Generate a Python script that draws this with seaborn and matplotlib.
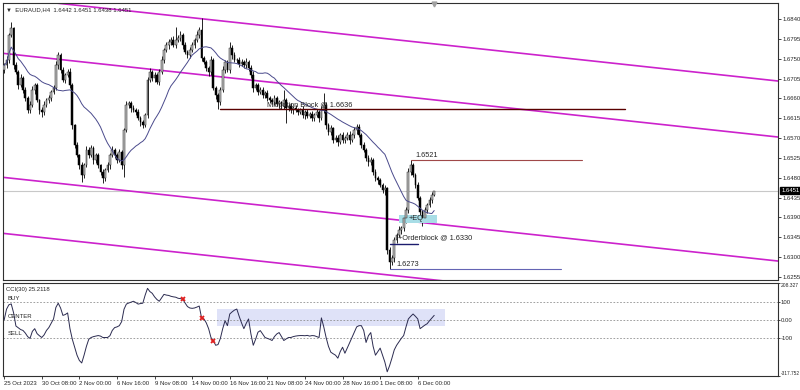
import numpy as np
import pandas as pd
import matplotlib
matplotlib.use("Agg")
import matplotlib.pyplot as plt
import matplotlib.transforms as mtransforms
import seaborn as sns

# ---------------- data ----------------
title_text = "\u25bc  EURAUD,H4  1.6442 1.6451 1.6438 1.6451"
first_open = 1.6725
closes = [
    1.6735, 1.6747, 1.6804, 1.6819, 1.6735, 1.6720, 1.6690, 1.6706, 1.6679, 1.6661,
    1.6633, 1.6645, 1.6679, 1.6690, 1.6656, 1.6633, 1.6629, 1.6645, 1.6656, 1.6661,
    1.6674, 1.6683, 1.6735, 1.6758, 1.6724, 1.6701, 1.6713, 1.6720, 1.6690, 1.6599,
    1.6554, 1.6531, 1.6508, 1.6486, 1.6508, 1.6543, 1.6531, 1.6547, 1.6520, 1.6531,
    1.6508, 1.6493, 1.6479, 1.6497, 1.6508, 1.6531, 1.6543, 1.6531, 1.6520, 1.6538,
    1.6508, 1.6588, 1.6645, 1.6649, 1.6638, 1.6633, 1.6629, 1.6615, 1.6606, 1.6599,
    1.6622, 1.6701, 1.6720, 1.6706, 1.6713, 1.6697, 1.6720, 1.6747, 1.6770, 1.6781,
    1.6788, 1.6792, 1.6781, 1.6792, 1.6797, 1.6804, 1.6781, 1.6765, 1.6758, 1.6770,
    1.6781, 1.6792, 1.6804, 1.6815, 1.6751, 1.6742, 1.6729, 1.6720, 1.6747, 1.6683,
    1.6667, 1.6651, 1.6679, 1.6724, 1.6742, 1.6724, 1.6774, 1.6758, 1.6747, 1.6747,
    1.6738, 1.6742, 1.6735, 1.6742, 1.6729, 1.6713, 1.6683, 1.6690, 1.6674, 1.6679,
    1.6667, 1.6672, 1.6661, 1.6656, 1.6651, 1.6661, 1.6647, 1.6651, 1.6642, 1.6656,
    1.6638, 1.6642, 1.6633, 1.6638, 1.6633, 1.6629, 1.6633, 1.6622, 1.6629, 1.6620,
    1.6624, 1.6615, 1.6622, 1.6629, 1.6615, 1.6633, 1.6645, 1.6599, 1.6583, 1.6592,
    1.6565, 1.6570, 1.6561, 1.6577, 1.6565, 1.6570, 1.6577, 1.6565, 1.6577, 1.6588,
    1.6595, 1.6577, 1.6554, 1.6543, 1.6524, 1.6515, 1.6520, 1.6493, 1.6479, 1.6474,
    1.6463, 1.6452, 1.6456, 1.6316, 1.6288, 1.6297, 1.6338, 1.6350, 1.6361, 1.6365,
    1.6388, 1.6406, 1.6493, 1.6508, 1.6486, 1.6463, 1.6434, 1.6402, 1.6388, 1.6406,
    1.6418, 1.6429, 1.6442, 1.6451,
]
upper_wick_pips = [
    6, 8, 5, 14, 4, 7, 5, 9, 4, 6, 5, 8, 10, 4, 6, 3, 7, 9, 5, 6,
    4, 7, 9, 7, 5, 8, 4, 6, 9, 5, 3, 6, 4, 7, 5, 10, 6, 8, 4, 6,
    5, 4, 7, 6, 8, 5, 9, 4, 6, 7, 5, 5, 8, 6, 4, 7, 5, 6, 4, 5,
    6, 8, 10, 5, 7, 4, 6, 9, 5, 8, 6, 7, 9, 30, 6, 8, 5, 7, 4, 6,
    7, 5, 9, 6, 27, 4, 6, 5, 8, 4, 6, 5, 7, 9, 6, 5, 15, 6, 8, 5,
    6, 7, 4, 9, 5, 6, 8, 5, 4, 7, 6, 5, 8, 4, 6, 7, 5, 6, 4, 23,
    5, 6, 7, 4, 8, 5, 6, 9, 4, 6, 5, 7, 4, 8, 5, 9, 27, 6, 5, 7,
    4, 6, 8, 5, 7, 4, 6, 9, 5, 8, 6, 7, 4, 6, 5, 8, 6, 4, 7, 5,
    6, 5, 8, 4, 6, 9, 7, 5, 10, 6, 8, 7, 9, 13, 6, 5, 7, 4, 6, 8,
    5, 7, 6, 0,
]
lower_wick_pips = [
    7, 5, 6, 4, 8, 5, 9, 4, 6, 7, 5, 6, 4, 8, 5, 9, 11, 6, 5, 7,
    6, 4, 5, 8, 6, 4, 7, 5, 6, 9, 7, 5, 8, 16, 6, 4, 7, 5, 8, 6,
    5, 7, 11, 6, 4, 8, 5, 7, 6, 4, 9, 27, 5, 6, 8, 4, 7, 5, 9, 6,
    5, 7, 4, 6, 8, 5, 6, 4, 7, 5, 8, 6, 4, 7, 5, 6, 8, 4, 6, 7,
    5, 6, 4, 8, 6, 5, 7, 9, 6, 4, 8, 15, 6, 5, 7, 4, 6, 8, 5, 7,
    6, 4, 7, 5, 8, 6, 9, 5, 6, 4, 7, 5, 8, 6, 4, 7, 5, 9, 6, 5,
    34, 6, 5, 8, 4, 7, 5, 6, 9, 5, 4, 7, 6, 5, 8, 4, 6, 9, 5, 7,
    6, 4, 8, 5, 7, 6, 4, 9, 5, 6, 8, 5, 7, 4, 6, 8, 5, 7, 6, 9,
    5, 7, 12, 8, 15, 6, 9, 7, 5, 8, 6, 10, 5, 6, 4, 7, 5, 6, 18, 6,
    5, 4, 6, 4,
]
cci_values = [
    0, 60, 85, 90, 40, -35, -45, -55, -60, -75,
    -95, -105, -65, -50, -78, -90, -100, -85, -60, -44,
    -20, 5, 70, 94, 67, 25, 30, 39, -50, -110,
    -155, -200, -230, -244, -200, -150, -110, -100, -95, -92,
    -89, -92, -100, -100, -100, -90, -60, -44, -40, -33,
    -10, 60, 89, 95, 100, 105, 98, 89, 92, 94,
    140, 178, 160, 150, 130, 115, 105, 125, 144, 140,
    138, 133, 130, 128, 122, 120, 117, 95, 75, 67,
    65, 67, 72, 78, 11, 5, -17, -50, -100, -117,
    -144, -140, -105, -50, -5, -33, 33, 45, 55, 61,
    20, -17, -50, -20, 5, -80, -144, -110, -70, -61,
    -80, -100, -105, -110, -117, -95, -80, -72, -95, -117,
    -108, -100, -100, -95, -92, -90, -89, -89, -90, -88,
    -92, -89, -90, -95, -100, 11, -40, -100, -150, -183,
    -192, -200, -217, -180, -155, -189, -160, -130, -100, -70,
    -40, -33, -33, -60, -128, -90, -72, -150, -200, -180,
    -160, -200, -239, -294, -260, -217, -170, -144, -125, -105,
    -89, -40, 5, 20, 33, 20, 5, -50, -40, -30,
    -22, -5, 10, 25.2118,
]
cci_signal_bars = [76, 84, 89]

time_labels = ["25 Oct 2023", "30 Oct 08:00", "2 Nov 00:00", "6 Nov 16:00",
               "9 Nov 08:00", "14 Nov 00:00", "16 Nov 16:00", "21 Nov 08:00",
               "24 Nov 00:00", "28 Nov 16:00", "1 Dec 08:00", "6 Dec 00:00"]
bars_per_label = 16
price_ticks = [1.6840, 1.6795, 1.6750, 1.6705, 1.6660, 1.6615, 1.6570,
               1.6525, 1.6480, 1.6435, 1.6390, 1.6345, 1.6300, 1.6255]
current_price = 1.6451
cci_levels = [100, 0, -100]
cci_level_names = ["BUY", "CENTER", "SELL"]
cci_tick_values = [208.327, 100, 0, -100, -317.752]
cci_tick_labels = ["208.327", "100", "0.00", "-100", "-317.752"]

# channel trend lines: price at the left and right chart edges
channel_bars = [-0.5, 329.3]
channel_prices = [(1.68892, 1.66994), (1.67622, 1.65724),
                  (1.64810, 1.62912), (1.63540, 1.61642)]

# horizontal level objects: (price, start bar, end bar)
mitigation_level = (1.6636, 92, 264)
swing_high_level = (1.6521, 173, 246)
orderblock_level = (1.6330, 164, 176)
swing_low_level = (1.6273, 164, 237)
eq_box = (168, 184.2, 1.6378, 1.6396)
cci_box = (90.5, 187.6, -33, 61)

# ---------------- figure ----------------
sns.set_style("white")
plt.rcParams["font.family"] = ["Liberation Sans", "DejaVu Sans"]

W, H = 800, 390
fig = plt.figure(figsize=(W / 100, H / 100), dpi=100)
ax = fig.add_axes([3 / W, 1 - 280 / H, 775 / W, 277 / H])
axc = fig.add_axes([3 / W, 1 - 376 / H, 775 / W, 93 / H], sharex=ax)

closes_a = np.array(closes)
opens_a = np.r_[first_open, closes_a[:-1]]
highs_a = np.maximum(opens_a, closes_a) + np.array(upper_wick_pips) * 1e-4
lows_a = np.minimum(opens_a, closes_a) - np.array(lower_wick_pips) * 1e-4
idx = np.arange(len(closes_a))
df = pd.DataFrame({"bar": idx, "close": closes_a})
df["ma"] = df["close"].rolling(20, min_periods=1).mean()

xmin, xmax = -0.5, 329.3
ax.set_xlim(xmin, xmax)
ax.set_ylim(1.62482, 1.68763)
axc.set_ylim(-317.752, 208.327)

# current price line
ax.axhline(current_price, color="#c8c8c8", lw=0.8, zorder=1)

# channel lines
for p0, p1 in channel_prices:
    ax.plot(channel_bars, [p0, p1], color="#cc22cc", lw=1.2, zorder=2)

# candles
ax.vlines(idx, lows_a, highs_a, color="black", lw=0.6, zorder=3)
bull = closes_a >= opens_a
body = closes_a - opens_a
ax.bar(idx[bull], body[bull], bottom=opens_a[bull], width=0.75,
       color="#bdbdbd", edgecolor="#202020", linewidth=0.35, zorder=4)
ax.bar(idx[~bull], body[~bull], bottom=opens_a[~bull], width=0.75,
       color="black", edgecolor="black", linewidth=0.35, zorder=4)

# moving average
sns.lineplot(data=df, x="bar", y="ma", ax=ax, color="#4a4a8c", lw=0.7, zorder=5)

# objects
p, b0, b1 = mitigation_level
ax.plot([b0, b1], [p, p], color="#5a0000", lw=1.0, zorder=6)
ax.text(112, p + 0.0001, f"Mitigation Block @ {p:.4f}", fontsize=5.3,
        ha="left", va="bottom", zorder=7)
p, b0, b1 = swing_high_level
ax.plot([b0, b1], [p, p], color="#a04848", lw=0.8, zorder=6)
ax.text(175, p + 0.0002, f"{p:.4f}", fontsize=5.3, ha="left", va="bottom", zorder=7)
p, b0, b1 = orderblock_level
ax.plot([b0, b1], [p, p], color="#1c1c6e", lw=1.0, zorder=6)
ax.text(167.5, p + 0.00135, f"+Orderblock @ {p:.4f}", fontsize=5.3,
        ha="left", va="center", zorder=7)
p, b0, b1 = swing_low_level
ax.plot([b0, b1], [p, p], color="#6464b4", lw=0.8, zorder=6)
ax.text(167, p + 0.0002, f"{p:.4f}", fontsize=5.3, ha="left", va="bottom", zorder=7)
bx0, bx1, by0, by1 = eq_box
ax.fill_between([bx0, bx1], by0, by1, color="#a8dde6", lw=0, zorder=3.5)
ax.text(172, (by0 + by1) / 2, "+EQ", fontsize=5.3, ha="left", va="center", zorder=7)

# title and shift marker
ax.text(0.004, 0.985, title_text, transform=ax.transAxes, fontsize=4.3,
        ha="left", va="top", zorder=8)
trans_top = mtransforms.blended_transform_factory(ax.transData, ax.transAxes)
ax.plot([183], [0.995], marker="v", color="#a0a0a0", ms=3.5, transform=trans_top,
        clip_on=False, zorder=8)

# price axis on the right
ax.yaxis.tick_right()
ax.set_yticks(price_ticks)
ax.set_yticklabels([f"{t:.4f}" for t in price_ticks])
ax.tick_params(axis="y", right=True, length=2, width=0.6, labelsize=4.3, pad=1.5)
ax.tick_params(axis="x", bottom=False, labelbottom=False)
ax.set_xlabel("")
ax.set_ylabel("")
trans_r = mtransforms.blended_transform_factory(ax.transAxes, ax.transData)
ax.text(1.004, current_price, f"{current_price:.4f}", transform=trans_r,
        fontsize=4.3, color="white", ha="left", va="center",
        bbox=dict(boxstyle="square,pad=0.15", fc="black", ec="black"), zorder=9)

# ---------------- CCI panel ----------------
bx0, bx1, cy0, cy1 = cci_box
axc.fill_between([bx0, bx1], cy0, cy1, color="#dfe2f8", lw=0, zorder=1)
for lvl, name in zip(cci_levels, cci_level_names):
    axc.axhline(lvl, color="#909090", lw=0.6, ls=(0, (2, 2)), zorder=2)
    axc.text(1.5, lvl + 6, name, fontsize=4.3, ha="left", va="bottom", zorder=4)
cci_df = pd.DataFrame({"bar": idx, "cci": cci_values})
sns.lineplot(data=cci_df, x="bar", y="cci", ax=axc, color="#2b2b50", lw=0.7, zorder=3)
sig = cci_df.iloc[cci_signal_bars]
axc.plot(sig["bar"], sig["cci"], ls="none", marker="x", color="#e02020",
         ms=3.5, mew=1.3, zorder=5)
axc.text(0.004, 0.96, f"CCI(30) {cci_values[-1]:.4f}", transform=axc.transAxes,
         fontsize=4.3, ha="left", va="top", zorder=6)

axc.yaxis.tick_right()
axc.set_yticks(cci_tick_values)
axc.set_yticklabels(cci_tick_labels)
axc.tick_params(axis="y", right=True, length=1.5, width=0.6, labelsize=4.3, pad=0.6)
ylabs = axc.get_yticklabels()
ylabs[0].set_fontsize(3.6)
ylabs[0].set_va("top")
ylabs[-1].set_fontsize(3.4)
ylabs[-1].set_va("bottom")
xt = [i * bars_per_label for i in range(len(time_labels))]
axc.set_xticks(xt)
axc.set_xticklabels(time_labels, ha="left")
axc.tick_params(axis="x", bottom=True, length=2, width=0.6, labelsize=4.3, pad=1.5)
axc.set_xlabel("")
axc.set_ylabel("")

for a in (ax, axc):
    for s in a.spines.values():
        s.set_color("#303030")
        s.set_linewidth(0.8)
    a.grid(False)

fig.savefig("out.png", dpi=100)
